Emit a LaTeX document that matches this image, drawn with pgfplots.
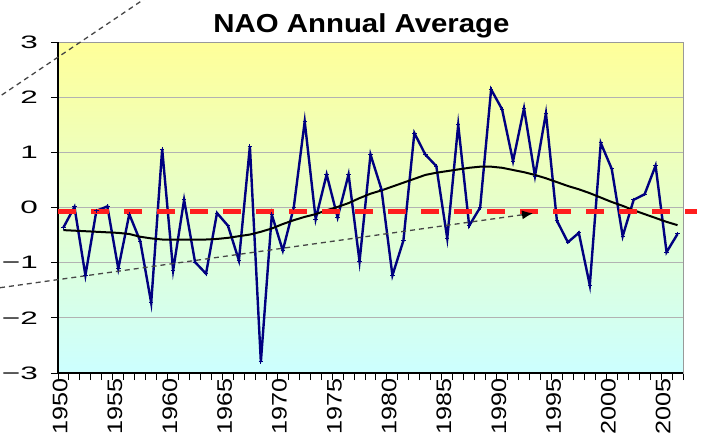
\documentclass[border=0pt]{standalone}
\usepackage{fontspec}
\setmainfont{Liberation Sans}
\newfontfamily\yfont{Liberation Sans}
\newfontfamily\xfont[FakeStretch=1.2]{Liberation Sans}
\newfontfamily\tfont[FakeStretch=1.13]{Liberation Sans}
\usepackage{pgfplots}
\usepackage{pgfplotstable}
\pgfplotsset{compat=1.18}
\usetikzlibrary{arrows.meta}
\definecolor{navyline}{RGB}{0,0,128}
\definecolor{bgtop}{RGB}{255,255,153}
\definecolor{bgbot}{RGB}{204,255,255}
\definecolor{redline}{RGB}{255,30,30}
\newcommand{\yl}[1]{\scalebox{1.75}[1]{#1}}

\pgfplotstableread{
idx nao
0 -0.36
1 0.01
2 -1.23
3 -0.06
4 0.02
5 -1.11
6 -0.12
7 -0.61
8 -1.73
9 1.06
10 -1.14
11 0.14
12 -0.99
13 -1.20
14 -0.10
15 -0.33
16 -0.96
17 1.11
18 -2.80
19 -0.13
20 -0.78
21 0.00
22 1.56
23 -0.21
24 0.60
25 -0.18
26 0.60
27 -0.98
28 0.96
29 0.33
30 -1.23
31 -0.60
32 1.35
33 0.96
34 0.75
35 -0.56
36 1.50
37 -0.33
38 0.00
39 2.14
40 1.78
41 0.84
42 1.80
43 0.57
44 1.71
45 -0.24
46 -0.63
47 -0.46
48 -1.41
49 1.17
50 0.70
51 -0.52
52 0.14
53 0.24
54 0.76
55 -0.81
56 -0.48
}\naodata

\pgfplotstableread{
idx smooth
0 -0.41
1 -0.42
2 -0.43
3 -0.44
4 -0.45
5 -0.46
6 -0.48
7 -0.53
8 -0.56
9 -0.58
10 -0.58
11 -0.58
12 -0.58
13 -0.58
14 -0.57
15 -0.55
16 -0.52
17 -0.49
18 -0.44
19 -0.38
20 -0.30
21 -0.23
22 -0.17
23 -0.12
24 -0.05
25 0.01
26 0.08
27 0.17
28 0.25
29 0.31
30 0.38
31 0.45
32 0.52
33 0.59
34 0.63
35 0.66
36 0.69
37 0.72
38 0.74
39 0.74
40 0.72
41 0.68
42 0.64
43 0.59
44 0.53
45 0.46
46 0.39
47 0.33
48 0.26
49 0.18
50 0.10
51 0.03
52 -0.05
53 -0.12
54 -0.19
55 -0.26
56 -0.32
}\smoothdata

\begin{document}
\begin{tikzpicture}
\useasboundingbox (0,0) rectangle (708pt,440pt);
\begin{axis}[
  at={(58pt,67pt)}, anchor=south west,
  scale only axis, width=625pt, height=331pt,
  xmin=-0.5, xmax=56.5, ymin=-3, ymax=3,
  clip=false,
  axis background/.style={top color=bgtop, bottom color=bgbot},
  axis line style={draw=gray!80, line width=1pt},
  ytick={-3,-2,-1,0,1,2,3},
  yticklabels={\yl{−3},\yl{−2},\yl{−1},\yl{0},\yl{1},\yl{2},\yl{3}},
  yticklabel style={anchor=east, inner sep=0pt, font=\yfont\fontsize{18}{18}\selectfont},
  yticklabel shift=13pt,
  ymajorgrids, grid style={gray!60, line width=1pt},
  xtick={-0.5,0.5,...,56.5}, xticklabels={},
  xtick pos=bottom, ytick pos=left,
  tick align=outside, major tick length=7pt,
  tick style={black, line width=1pt},
  extra x ticks={-0.3,4.7,...,54.7},
  extra x tick labels={1950,1955,1960,1965,1970,1975,1980,1985,1990,1995,2000,2005},
  extra x tick style={major tick length=0pt,
    xticklabel style={rotate=90, anchor=east, inner sep=0pt, font=\xfont\fontsize{21}{21}\selectfont}},
  xticklabel shift=5pt,
]
\addplot[navyline, line width=2.4pt, mark=+, mark size=2.2pt, mark options={line width=1pt}]
  table[x=idx, y=nao] {\naodata};
\addplot[black, line width=2pt, no marks] table[x=idx, y=smooth] {\smoothdata};
\draw[black, line width=1.5pt] (rel axis cs:0,0) -- (rel axis cs:0,1);
\draw[black, line width=1.5pt] (rel axis cs:0,0) -- (rel axis cs:1,0);
\draw[redline, line width=5pt, dash pattern=on 18pt off 15pt] (axis cs:-0.5,-0.07) -- (axis cs:57.78,-0.07);
\draw[gray!55!black, line width=1.3pt, dash pattern=on 5pt off 4pt] (axis cs:-5.63,2.039) -- (axis cs:7.9,3.85);
\draw[gray!55!black, line width=1.3pt, dash pattern=on 5pt off 4pt, -{Latex[length=11pt,width=9pt,black]}] (axis cs:-5.79,-1.454) -- (axis cs:42.82,-0.105);
\node[font=\tfont\bfseries\fontsize{26}{26}\selectfont, anchor=base] at (rel axis cs:0.4856,1.030) {NAO Annual Average};
\end{axis}
\end{tikzpicture}
\end{document}
